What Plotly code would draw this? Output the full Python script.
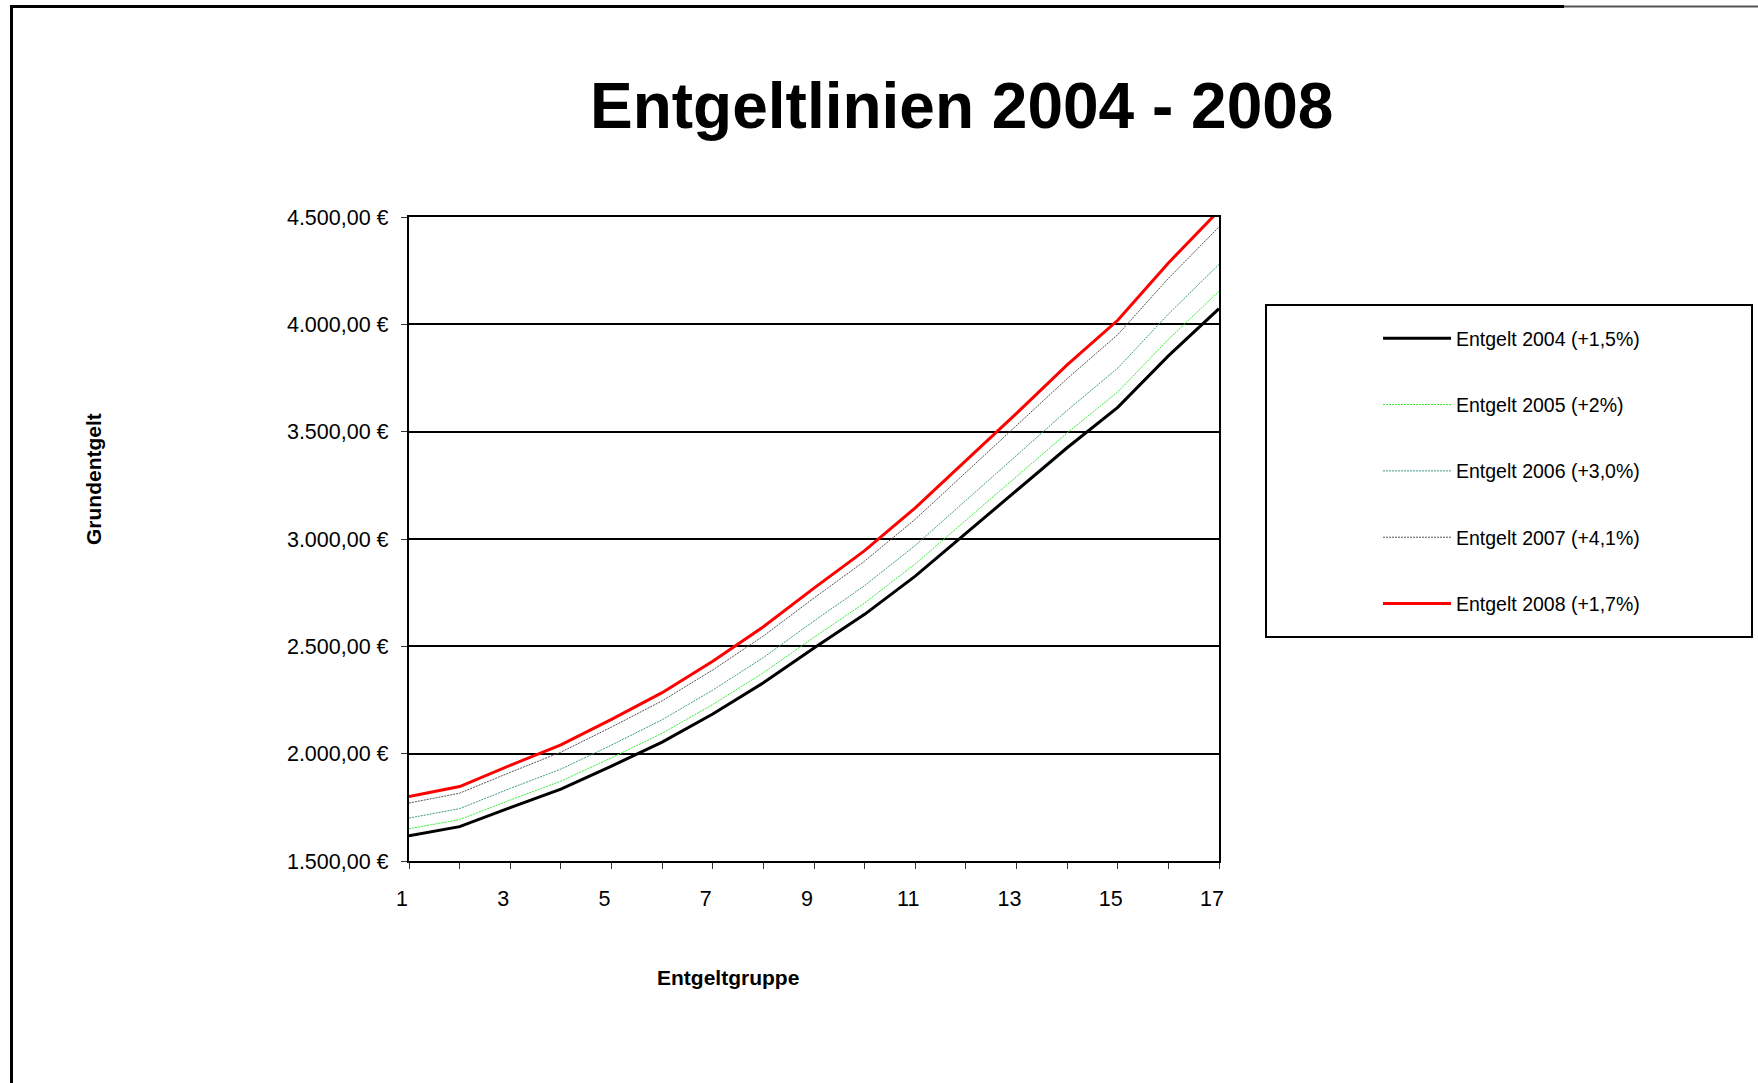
import plotly.graph_objects as go

# Entgeltgruppen (x categories)
gruppen = list(range(1, 18))

# Grundentgelt values (EUR)
entgelt_2004 = [1618, 1660, 1749, 1835, 1942, 2054, 2185, 2330, 2492, 2649, 2827, 3026, 3223, 3425, 3613, 3853, 4073]
entgelt_2005 = [1650, 1693, 1784, 1872, 1981, 2095, 2229, 2377, 2542, 2702, 2884, 3087, 3287, 3494, 3685, 3930, 4154]
entgelt_2006 = [1700, 1744, 1838, 1928, 2040, 2158, 2296, 2448, 2618, 2783, 2970, 3180, 3386, 3599, 3796, 4048, 4279]
entgelt_2007 = [1770, 1816, 1913, 2007, 2124, 2246, 2390, 2548, 2725, 2897, 3092, 3310, 3525, 3747, 3952, 4214, 4454]
entgelt_2008 = [1800, 1847, 1946, 2041, 2160, 2284, 2431, 2591, 2771, 2946, 3145, 3366, 3585, 3811, 4019, 4286, 4530]

series_names = ["Entgelt 2004 (+1,5%)", "Entgelt 2005 (+2%)", "Entgelt 2006 (+3,0%)",
                "Entgelt 2007 (+4,1%)", "Entgelt 2008 (+1,7%)"]

x_tick_vals = gruppen
x_tick_text = [str(g) if g % 2 == 1 else "" for g in gruppen]

FONT = "Arial, Liberation Sans, sans-serif"

W, H = 1758, 1083
L, R, T, B = 409, 1758 - 1219, 217, 1083 - 861
PW, PH = W - L - R, H - T - B


def px(xp):
    return (xp - L) / PW


def py(yp):
    return (H - B - yp) / PH


styles = [
    dict(color="#000000", width=3, dash="solid"),
    dict(color="#33ee33", width=1, dash="2px,1px"),
    dict(color="#3f9a8a", width=1, dash="2px,1px"),
    dict(color="#555555", width=1, dash="2px,1px"),
    dict(color="#ff0000", width=3, dash="solid"),
]
all_series = [entgelt_2004, entgelt_2005, entgelt_2006, entgelt_2007, entgelt_2008]

fig = go.Figure()
for i, (name, vals, st) in enumerate(zip(series_names, all_series, styles)):
    fig.add_trace(go.Scatter(
        x=gruppen, y=vals, name=name, mode="lines",
        line=dict(color=st["color"], width=st["width"], dash=st["dash"]),
        legendgroup=f"g{i}",
    ))

fig.update_layout(
    width=W, height=H,
    margin=dict(l=L, r=R, t=T, b=B, pad=0),
    paper_bgcolor="white", plot_bgcolor="white",
    font=dict(family=FONT, size=20, color="black"),
    separators=",.",
    showlegend=True,
    legend=dict(
        x=px(1378), y=py(319), xanchor="left", yanchor="top",
        bgcolor="rgba(0,0,0,0)", borderwidth=0,
        font=dict(family=FONT, size=19.5, color="black"),
        itemwidth=68, tracegroupgap=38,
    ),
    xaxis=dict(
        range=[1, 17], tickmode="array", tickvals=x_tick_vals, ticktext=x_tick_text,
        ticks="outside", ticklen=6, tickwidth=1, tickcolor="#333333",
        showgrid=False, zeroline=False,
        showline=True, linecolor="black", linewidth=2.3, mirror=True,
        tickfont=dict(family=FONT, size=21.5, color="black"),
        ticklabelshift=-7, ticklabelstandoff=11,
    ),
    yaxis=dict(
        range=[1500, 4500], dtick=500, tick0=1500,
        tickformat=",.2f", ticksuffix=" €",
        ticks="outside", ticklen=6, tickwidth=1, tickcolor="#333333",
        showgrid=True, gridcolor="black", gridwidth=2.3,
        zeroline=False,
        showline=True, linecolor="black", linewidth=2.3, mirror=True,
        tickfont=dict(family=FONT, size=21.5, color="black"),
        ticklabelstandoff=8,
    ),
)

annotations = [
    dict(text="<b>Entgeltlinien 2004 - 2008</b>", x=px(961), y=py(106), xref="paper", yref="paper",
         xanchor="center", yanchor="middle", showarrow=False,
         font=dict(family=FONT, size=64, color="black")),
    dict(text="<b>Grundentgelt</b>", x=px(93), y=py(479), xref="paper", yref="paper",
         xanchor="center", yanchor="middle", showarrow=False, textangle=-90,
         font=dict(family=FONT, size=21, color="black")),
    dict(text="<b>Entgeltgruppe</b>", x=px(728), y=py(977), xref="paper", yref="paper",
         xanchor="center", yanchor="middle", showarrow=False,
         font=dict(family=FONT, size=21, color="black")),
]
fig.update_layout(annotations=annotations)

shapes = [
    # outer frame (top and left edges)
    dict(type="line", xref="paper", yref="paper", x0=px(11), x1=px(1564), y0=py(6.5), y1=py(6.5),
         line=dict(color="black", width=3)),
    dict(type="line", xref="paper", yref="paper", x0=px(1564), x1=px(1758), y0=py(6.5), y1=py(6.5),
         line=dict(color="#555555", width=2)),
    dict(type="line", xref="paper", yref="paper", x0=px(11.5), x1=px(11.5), y0=py(5), y1=py(1083),
         line=dict(color="black", width=3)),
    # legend box
    dict(type="rect", xref="paper", yref="paper", x0=px(1266), x1=px(1752), y0=py(305), y1=py(637),
         line=dict(color="black", width=2), fillcolor="rgba(0,0,0,0)"),
]
fig.update_layout(shapes=shapes)

fig.write_html("out.html", config={"displayModeBar": False},
               post_script="document.body.style.margin='0px';")
